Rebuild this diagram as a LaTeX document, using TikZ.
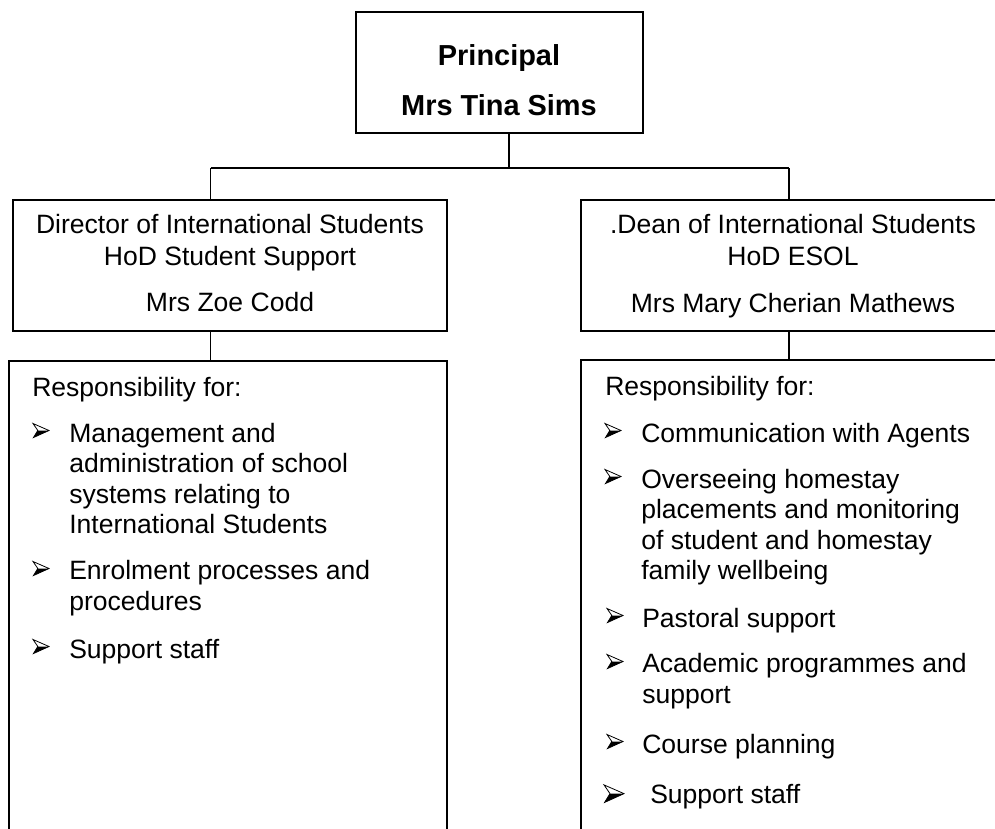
\documentclass[tikz,border=0pt]{standalone}
\usepackage{fontspec}
\setmainfont{Liberation Sans}
\usetikzlibrary{fit}
\begin{document}
\begin{tikzpicture}[x=0.75pt,y=-0.75pt,
  box/.style={draw=black,line width=1.5pt,inner sep=0pt,rectangle},
  link/.style={draw=black,line width=0.9pt},
  txt/.style={inner sep=0pt,anchor=base,font=\fontsize{19.9pt}{22.9pt}\selectfont},
  head/.style={inner sep=0pt,anchor=base,font=\fontsize{21.7pt}{24pt}\selectfont\bfseries},
  % multi-line items are placed by the baseline of their last line
  item/.style={inner sep=0pt,anchor=base west,align=left,font=\fontsize{19.9pt}{22.9pt}\selectfont},
  % three-dimensional arrowhead bullet, origin at the text baseline
  bul/.pic={
    \filldraw[fill=white,draw=black,line width=0.6pt,line join=miter]
      (0,-18.5) -- (16,-11.5) -- (0.5,-4.5) -- (4.8,-11.5) -- cycle;
    \fill[black] (4.8,-11.5) -- (16,-11.5) -- (0.5,-4.5) -- cycle;
  }]
\useasboundingbox (0,0) rectangle (995,828);
\clip (0,0) rectangle (995,828);

% boxes
\node[box,fit={(356,12) (643,133)}] (prin) {};
\node[box,fit={(12.7,200) (447,331)}] (dir) {};
\node[box,fit={(581,200) (1010,331)}] (dean) {};
\node[box,fit={(9,361) (447,850)}] (resL) {};
\node[box,fit={(581,360) (1010,850)}] (resR) {};

% principal
\node[head] (p1) at (499,65) {Principal};
\node[head] (p2) at (499,115) {Mrs Tina Sims};

% director
\node[txt] (d1) at (230,233) {Director of International Students};
\node[txt] (d2) at (230,265) {HoD Student Support};
\node[txt] (d3) at (230,311) {Mrs Zoe Codd};

% dean
\node[txt] (e1) at (793,233) {.Dean of International Students};
\node[txt] (e2) at (793,265) {HoD ESOL};
\node[txt] (e3) at (793,312) {Mrs Mary Cherian Mathews};

% connectors
\coordinate (bmid) at (509,168);
\coordinate (bL) at (210.7,168);
\coordinate (bR) at (789,168);
\draw[link] (prin.south -| bmid) -- (bmid);
\draw[link] (bL) -- (bR);
\draw[link] (bL) -- (bL |- dir.north);
\draw[link] (bR) -- (bR |- dean.north);
\draw[link] (dir.south -| bL) -- (resL.north -| bL);
\draw[link] (dean.south -| bR) -- (resR.north -| bR);

% left responsibilities
\node[item] (lr) at (32,396) {Responsibility for:};
\pic at (33,442) {bul};
\node[item] (l1) at (69,533.6) {Management and\\administration of school\\systems relating to\\International Students};
\pic at (33,580) {bul};
\node[item] (l2) at (69,610.5) {Enrolment processes and\\procedures};
\pic at (33,658) {bul};
\node[item] (l3) at (69,658) {Support staff};

% right responsibilities
\node[item] (rr) at (605,395) {Responsibility for:};
\pic at (605,442) {bul};
\node[item] (r1) at (641,442) {Communication with Agents};
\pic at (605,488) {bul};
\node[item] (r2) at (641,579.6) {Overseeing homestay\\placements and monitoring\\of student and homestay\\family wellbeing};
\pic at (607,627) {bul};
\node[item] (r3) at (642,627) {Pastoral support};
\pic at (607,673) {bul};
\node[item] (r4) at (642,703.5) {Academic programmes and\\support};
\pic at (607,753) {bul};
\node[item] (r5) at (642,753) {Course planning};
\pic[scale=1.25] at (604,808) {bul};
\node[item] (r6) at (650,803) {Support staff};
\end{tikzpicture}
\end{document}
